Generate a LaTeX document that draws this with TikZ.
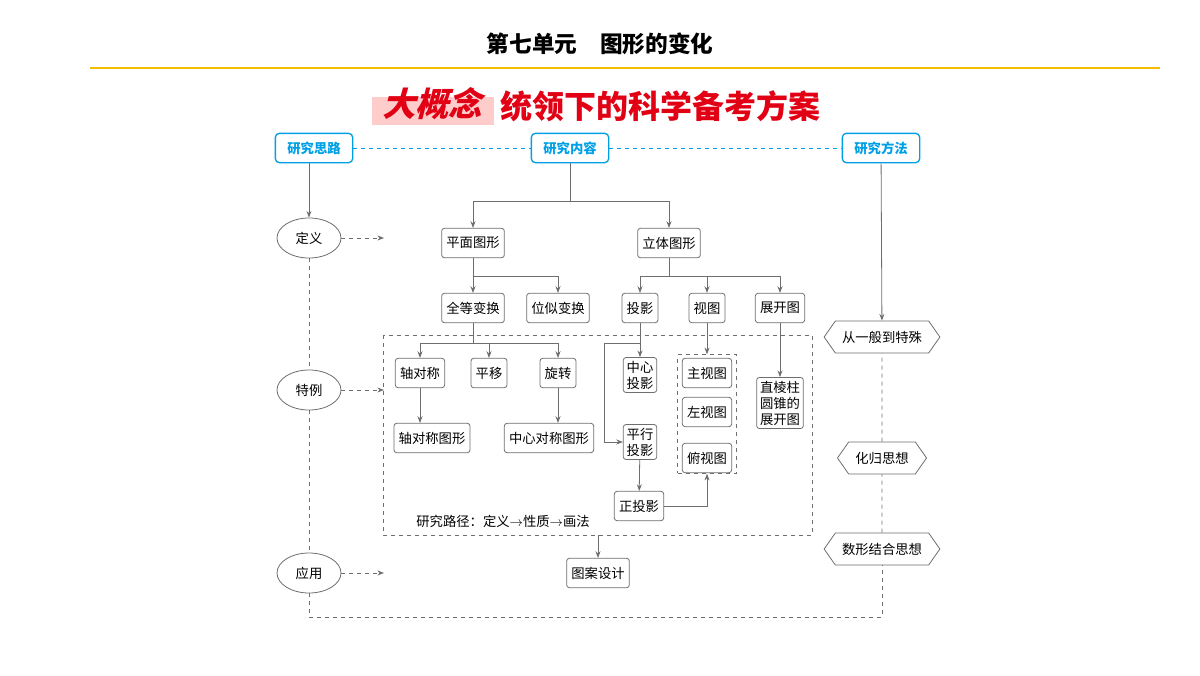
\documentclass[tikz,border=0pt]{standalone}
\usepackage{fontspec}
\setmainfont{Noto Sans CJK SC}
\newfontfamily\slantcjk[FakeSlant=0.25]{Noto Sans CJK SC}
\usetikzlibrary{shapes,shapes.symbols,arrows.meta}
\definecolor{headcyan}{RGB}{0,160,230}
\definecolor{linegray}{RGB}{110,110,110}
\definecolor{titlered}{RGB}{225,0,20}
\tikzstyle{block} = [rectangle, draw=linegray, rounded corners=2pt, fill=white,
    font=\fontsize{10}{12}\selectfont, inner sep=3.5pt, minimum height=22pt, align=center]
\tikzstyle{head} = [rectangle, draw=headcyan, line width=1pt, rounded corners=3pt, fill=white,
    text=headcyan, font=\fontsize{10}{12}\selectfont\bfseries, minimum height=22pt, minimum width=58pt]
\tikzstyle{oval} = [ellipse, draw=linegray, fill=white, minimum width=48pt, minimum height=30pt,
    font=\fontsize{10}{12}\selectfont]
\tikzstyle{hexa} = [signal, signal to=west and east, signal pointer angle=110, draw=linegray, fill=white,
    minimum height=24pt, inner xsep=5pt, font=\fontsize{10}{12}\selectfont]
\tikzstyle{arr} = [-{Stealth[length=5pt]}, draw=linegray]

\begin{document}
\begin{tikzpicture}[x=0.75pt, y=-0.75pt, line width=0.6pt]
	\useasboundingbox (0,0) rectangle (1200,675);
	% heading
	\node[font=\fontsize{17}{20}\selectfont\bfseries] (unit) at (600,44) {第七单元\quad 图形的变化};
	\draw[color={rgb,255:red,245;green,190;blue,0}, line width=0.8pt] (90,68) -- (1160,68);
	\fill[red!20] (372,97) rectangle (494,125);
	\node[text=titlered, font=\fontsize{25}{28}\slantcjk\bfseries] (big) at (432,104) {大概念};
	\node[text=titlered, font=\fontsize{24}{28}\selectfont\bfseries, anchor=west] (plan) at (496,106) {统领下的科学备考方案};

	% three heads
	\node[head] (idea) at (314,148) {研究思路};
	\node[head] (content) at (570,148) {研究内容};
	\node[head] (method) at (881,148) {研究方法};
	\draw[headcyan, dashed] (idea) -- (content);
	\draw[headcyan, dashed] (content) -- (method);

	% left column
	\node[oval] (defn) at (309,238) {定义};
	\node[oval] (special) at (309,390) {特例};
	\node[oval] (use) at (309,573) {应用};
	\coordinate (defnend) at (384,238);
	\coordinate (specialend) at (384,390);
	\coordinate (useend) at (384,573);
	\draw[arr] (idea.south -| defn) -- (defn);
	\draw[arr, dashed] (defn) -- (defnend);
	\draw[arr, dashed] (special) -- (specialend);
	\draw[arr, dashed] (use) -- (useend);

	% right column
	\node[hexa] (general) at (882,337) {从一般到特殊};
	\node[hexa] (reduce) at (882,458) {化归思想};
	\node[hexa] (numshape) at (882,549) {数形结合思想};
	\draw[arr] (method) -- (general);
	\draw[linegray, dashed] (defn) -- (special);
	\draw[linegray, dashed] (special) -- (use);
	\draw[linegray, dashed] (use) -- (309,617) -| (numshape);
	\draw[linegray, dashed] (numshape) -- (reduce);
	\draw[linegray, dashed] (reduce) -- (general);

	% content tree
	\node[block] (plane) at (473,243) {平面图形};
	\node[block] (solid) at (669,243) {立体图形};
	\draw[arr] (content) -- (570,201) -| (plane);
	\draw[arr] (content) -- (570,201) -| (solid);
	\node[block] (congr) at (473,308) {全等变换};
	\node[block] (simil) at (558,308) {位似变换};
	\draw[arr] (plane) -- (473,276) -| (simil);
	\draw[arr] (plane) -- (congr);
	\node[block] (proj) at (640,308) {投影};
	\node[block] (views) at (707,308) {视图};
	\node[block] (net) at (780,308) {展开图};
	\draw[arr] (solid) -- (669,276) -| (proj);
	\draw[arr] (solid) -- (669,276) -| (views);
	\draw[arr] (solid) -- (669,276) -| (net);

	% dashed region
	\draw[linegray, dashed] (383,335) rectangle (812,535);
	\node[block] (axis) at (420,373) {轴对称};
	\node[block] (shift) at (489,373) {平移};
	\node[block] (rotate) at (558,373) {旋转};
	\draw[arr] (congr) -- (473,343) -| (axis);
	\draw[arr] (congr) -- (473,343) -| (shift);
	\draw[arr] (congr) -- (473,343) -| (rotate);
	\node[block] (axisfig) at (432,438) {轴对称图形};
	\node[block] (centerfig) at (549,438) {中心对称图形};
	\draw[arr] (axis) -- (axis |- axisfig.north);
	\draw[arr] (rotate) -- (rotate |- centerfig.north);

	\node[block, inner sep=2.5pt] (central) at (640,375) {中心\\投影};
	\node[block, inner sep=2.5pt] (parallel) at (640,442) {平行\\投影};
	\node[block] (ortho) at (639,506) {正投影};
	\draw[arr] (proj) -- (central);
	\draw[arr] (640,343) -- (604,343) |- (parallel.west);
	\draw[arr] (parallel) -- (ortho);

	\node[draw=linegray, dashed, minimum width=44pt, minimum height=89pt] (viewbox) at (707,414) {};
	\node[block] (front) at (707,373) {主视图};
	\node[block] (side) at (707,412) {左视图};
	\node[block] (top) at (707,458) {俯视图};
	\draw[arr] (views) -- (viewbox);
	\draw[arr] (ortho) -| (viewbox.south);

	\node[block, inner sep=2.5pt] (unfold) at (780,403) {直棱柱\\圆锥的\\展开图};
	\draw[arr] (net) -- (unfold);

	\node[font=\fontsize{10}{12}\selectfont] (path) at (503,521) {研究路径：定义$\rightarrow$性质$\rightarrow$画法};
	\node[block] (design) at (598,573) {图案设计};
	\draw[arr] (598,535) -- (design);
\end{tikzpicture}
\end{document}
